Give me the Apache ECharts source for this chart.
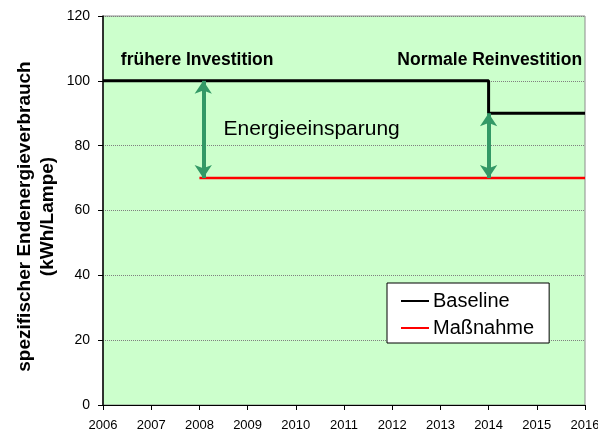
<!DOCTYPE html>
<html>
<head>
<meta charset="utf-8">
<script src="https://cdn.jsdelivr.net/npm/echarts@6/dist/echarts.min.js"></script>
<style>
  html, body { margin: 0; padding: 0; background: #fff; }
  #main { width: 598px; height: 434px; }
</style>
</head>
<body>
<div id="main"></div>
<script type="text/javascript">
  // Daten
  var years = [2006, 2007, 2008, 2009, 2010, 2011, 2012, 2013, 2014, 2015, 2016];
  var baseline = [[2006, 100], [2014, 100], [2014, 90], [2016, 90]];
  var massnahme = [[2008, 70], [2016, 70]];
  var arrow1 = [[2008.08, 100], [2008.08, 70]];
  var arrow2 = [[2014, 90], [2014, 70]];
  var yTicks = [0, 20, 40, 60, 80, 100, 120];

  var font = 'Arial, "Liberation Sans", sans-serif';
  var green = '#339966';

  var myChart = echarts.init(document.getElementById('main'));

  var option = {
    animation: false,
    backgroundColor: '#ffffff',
    textStyle: { fontFamily: font },
    grid: {
      left: 103, right: 13, top: 16, bottom: 29,
      outerBoundsMode: 'none',
      show: true,
      backgroundColor: '#ccffcc',
      borderColor: '#8c8c8c',
      borderWidth: 1
    },
    legend: {
      orient: 'vertical',
      left: 387, top: 283,
      padding: [8, 15, 5, 14],
      itemGap: 7,
      itemWidth: 28,
      itemHeight: 2,
      backgroundColor: '#ffffff',
      borderColor: '#000000',
      borderWidth: 1,
      borderRadius: 0,
      textStyle: { fontFamily: font, fontSize: 20, color: '#000', padding: [0, 0, 0, -1] },
      data: [
        { name: 'Baseline', icon: 'rect', itemStyle: { color: '#000' } },
        { name: 'Maßnahme', icon: 'rect', itemStyle: { color: '#ff0000' } }
      ]
    },
    xAxis: {
      type: 'value',
      min: years[0], max: years[years.length - 1], interval: 1,
      axisLine: { show: true, lineStyle: { color: '#000', width: 1 } },
      axisTick: { show: true, inside: false, length: 5, lineStyle: { color: '#000' } },
      axisLabel: {
        fontFamily: font, fontSize: 13, color: '#000', margin: 14,
        formatter: function (v) { return String(v); }
      },
      splitLine: { show: false }
    },
    yAxis: {
      type: 'value',
      min: yTicks[0], max: yTicks[yTicks.length - 1], interval: 20,
      name: 'spezifischer Endenergieverbrauch\n(kWh/Lampe)',
      nameLocation: 'middle',
      nameGap: 44,
      nameMoveOverlap: false,
      nameTextStyle: { fontFamily: font, fontSize: 19, fontWeight: 'bold', color: '#000', lineHeight: 23, padding: [0, 12, 0, 0] },
      axisLine: { show: true, lineStyle: { color: '#000', width: 1.5 } },
      axisTick: { show: true, inside: false, length: 5, lineStyle: { color: '#000' } },
      axisLabel: { fontFamily: font, fontSize: 14, color: '#000', margin: 13 },
      splitLine: { show: true, lineStyle: { color: '#7f7f7f', type: [1, 1], width: 1 } }
    },
    series: [
      {
        name: 'Baseline',
        type: 'line',
        data: baseline,
        symbol: 'none',
        lineStyle: { color: '#000', width: 3 },
        itemStyle: { color: '#000' },
        z: 3
      },
      {
        name: 'Maßnahme',
        type: 'line',
        data: massnahme,
        symbol: 'none',
        lineStyle: { color: '#ff0000', width: 2.5 },
        itemStyle: { color: '#ff0000' },
        z: 3
      },
      {
        name: 'pfeil',
        type: 'line',
        data: [],
        markLine: {
          silent: true,
          symbol: ['arrow', 'arrow'],
          symbolSize: [13, 13],
          label: { show: false },
          lineStyle: { color: green, width: 4, type: 'solid' },
          data: [
            [{ coord: arrow1[0] }, { coord: arrow1[1] }],
            [{ coord: arrow2[0] }, { coord: arrow2[1] }]
          ]
        }
      }
    ]
  };

  myChart.setOption(option);

  // Beschriftungen im Diagramm
  var p1 = myChart.convertToPixel({ gridIndex: 0 }, [2006.37, 106.5]);
  var p2 = myChart.convertToPixel({ gridIndex: 0 }, [2015.94, 106.5]);
  var p3 = myChart.convertToPixel({ gridIndex: 0 }, [2008.5, 85]);
  myChart.setOption({
    graphic: [
      { type: 'text', x: p1[0], y: p1[1], style: { text: 'frühere Investition', font: 'bold 17.5px ' + font, fill: '#000', textAlign: 'left', textVerticalAlign: 'middle' } },
      { type: 'text', x: p2[0], y: p2[1], style: { text: 'Normale Reinvestition', font: 'bold 17.5px ' + font, fill: '#000', textAlign: 'right', textVerticalAlign: 'middle' } },
      { type: 'text', x: p3[0], y: p3[1], style: { text: 'Energieeinsparung', font: '21px ' + font, fill: '#000', textAlign: 'left', textVerticalAlign: 'middle' } }
    ]
  });
</script>
</body>
</html>
